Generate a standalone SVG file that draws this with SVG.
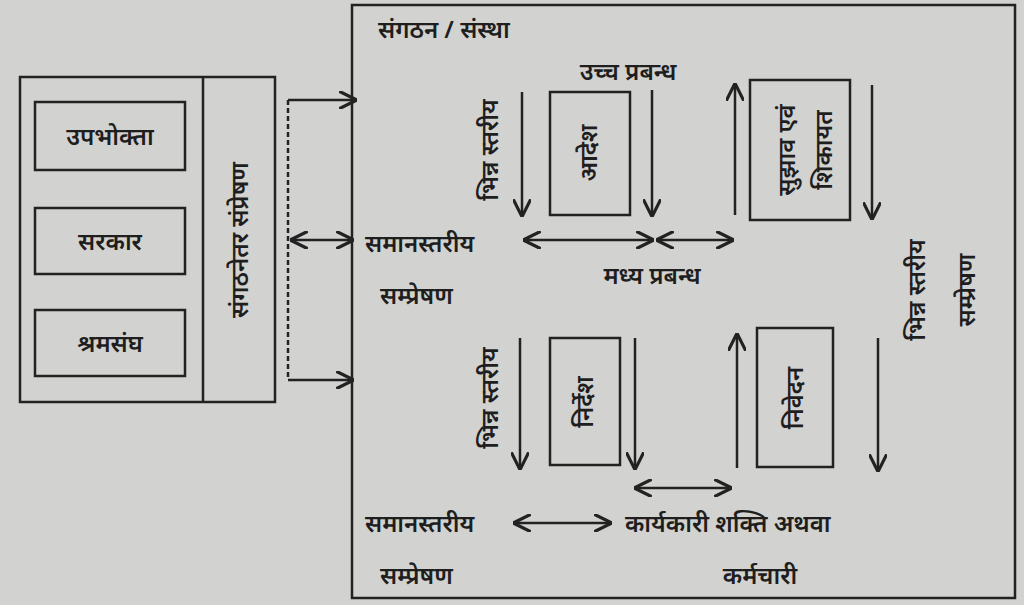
<svg xmlns="http://www.w3.org/2000/svg" width="1024" height="605" viewBox="0 0 1024 605">
<style>
text{font-family:"Noto Sans","Noto Sans Devanagari","Lohit Devanagari",sans-serif;font-size:24px;font-weight:600;fill:#1e1e1e}
.b{fill:none;stroke:#222;stroke-width:2.5}
.l{stroke:#222;stroke-width:2.5;fill:none}
.v{text-anchor:middle}
</style>
<defs>
<marker id="a" viewBox="0 0 10 10" refX="9" refY="5" markerWidth="7" markerHeight="7" orient="auto-start-reverse"><path d="M0,0L10,5L0,10" fill="none" stroke="#222" stroke-width="1.8"/></marker>
</defs>
<rect width="1024" height="605" fill="#d2d2d0"/>
<g id="left"><rect class="b" x="20" y="77" width="255" height="325"/><line class="l" x1="203" y1="77" x2="203" y2="402"/>
<text class="v" transform="translate(248,240) rotate(-90)">संगठनेतर संप्रेषण</text></g>
<g id="n1"><rect class="b" x="35" y="102" width="150" height="68"/><text class="v" x="110" y="145">उपभोक्ता</text></g>
<g id="n2"><rect class="b" x="35" y="208" width="150" height="66"/><text class="v" x="110" y="250">सरकार</text></g>
<g id="n3"><rect class="b" x="35" y="310" width="150" height="66"/><text class="v" x="110" y="352">श्रमसंघ</text></g>
<g id="main"><rect class="b" x="352" y="5" width="663" height="593"/>
<text x="378" y="38">संगठन / संस्था</text>
<text class="v" x="628" y="80">उच्च प्रबन्ध</text>
<text class="v" transform="translate(498,150) rotate(-90)">भिन्न स्तरीय</text>
<text class="v" transform="translate(925,290) rotate(-90)">भिन्न स्तरीय</text>
<text class="v" transform="translate(975,290) rotate(-90)">सम्प्रेषण</text>
<text x="365" y="252">समानस्तरीय</text>
<text x="380" y="304">सम्प्रेषण</text>
<text class="v" x="652" y="284">मध्य प्रबन्ध</text>
<text class="v" transform="translate(498,398) rotate(-90)">भिन्न स्तरीय</text>
<text x="365" y="532">समानस्तरीय</text>
<text x="380" y="584">सम्प्रेषण</text>
<text x="625" y="532">कार्यकारी शक्ति अथवा</text>
<text class="v" x="760" y="584">कर्मचारी</text></g>
<g id="n4"><rect class="b" x="550" y="92" width="80" height="123"/><text class="v" transform="translate(597,153) rotate(-90)">आदेश</text></g>
<g id="n5"><rect class="b" x="750" y="80" width="100" height="140"/><text class="v" transform="translate(795,150) rotate(-90)">सुझाव एवं</text><text class="v" transform="translate(832,150) rotate(-90)">शिकायत</text></g>
<g id="n6"><rect class="b" x="550" y="338" width="70" height="127"/><text class="v" transform="translate(593,402) rotate(-90)">निर्देश</text></g>
<g id="n7"><rect class="b" x="757" y="328" width="76" height="139"/><text class="v" transform="translate(803,398) rotate(-90)">निवेदन</text></g>
<g id="connectors" class="l">
<line class="l" x1="288" y1="100" x2="288" y2="380" stroke-dasharray="5,3"/>
<line class="l" x1="288" y1="100" x2="355" y2="100" marker-end="url(#a)"/>
<line class="l" x1="288" y1="380" x2="352" y2="380" marker-end="url(#a)"/>
<line class="l" x1="292" y1="240" x2="352" y2="240" marker-start="url(#a)" marker-end="url(#a)"/>
<line class="l" x1="522" y1="92" x2="522" y2="215" marker-end="url(#a)"/>
<line class="l" x1="652" y1="90" x2="652" y2="215" marker-end="url(#a)"/>
<line class="l" x1="735" y1="215" x2="735" y2="85" marker-end="url(#a)"/>
<line class="l" x1="872" y1="85" x2="872" y2="218" marker-end="url(#a)"/>
<line class="l" x1="525" y1="240" x2="652" y2="240" marker-start="url(#a)" marker-end="url(#a)"/>
<line class="l" x1="658" y1="240" x2="732" y2="240" marker-start="url(#a)" marker-end="url(#a)"/>
<line class="l" x1="520" y1="338" x2="520" y2="468" marker-end="url(#a)"/>
<line class="l" x1="635" y1="338" x2="635" y2="468" marker-end="url(#a)"/>
<line class="l" x1="737" y1="468" x2="737" y2="335" marker-end="url(#a)"/>
<line class="l" x1="878" y1="338" x2="878" y2="470" marker-end="url(#a)"/>
<line class="l" x1="636" y1="488" x2="730" y2="488" marker-start="url(#a)" marker-end="url(#a)"/>
<line class="l" x1="515" y1="523" x2="610" y2="523" marker-start="url(#a)" marker-end="url(#a)"/>
</g>
</svg>
